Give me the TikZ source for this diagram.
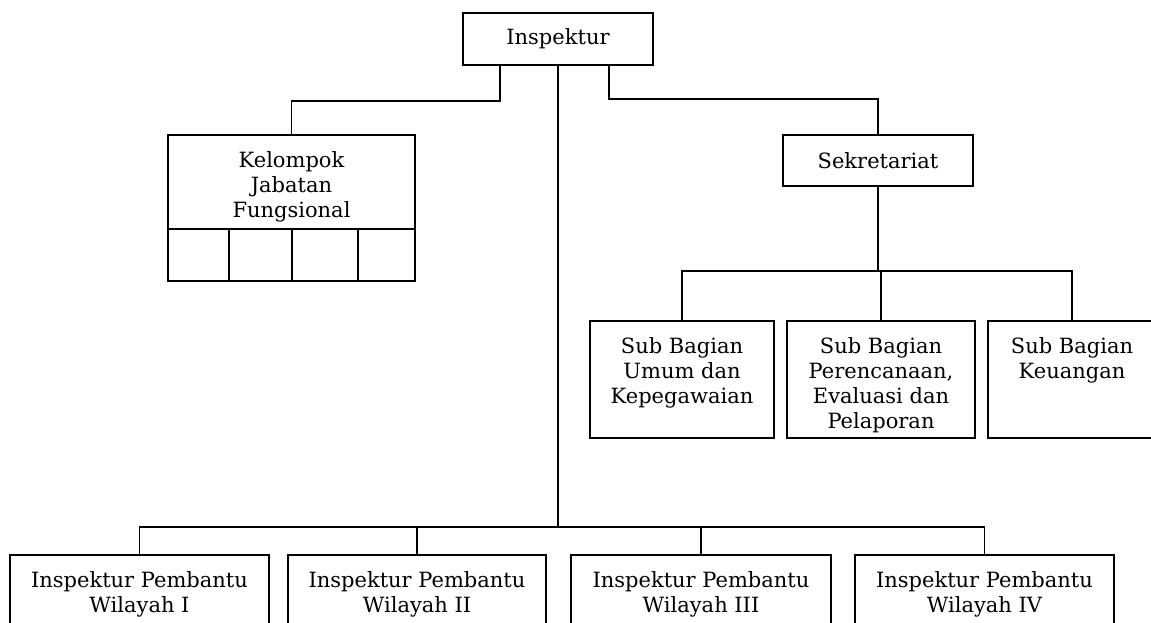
\documentclass[tikz,border=0pt]{standalone}
\usepackage{fontspec}
\setmainfont{DejaVu Serif}
\usetikzlibrary{positioning}

\begin{document}
\begin{tikzpicture}[x=0.5pt,y=-0.5pt,line width=0.85pt,
  font=\fontsize{10.5}{12.4}\selectfont,
  unit/.style={draw,rectangle,inner sep=0pt,outer sep=0pt},
  cell/.style={unit,minimum height=26pt},
  topbox/.style={unit,anchor=north,
    label={[anchor=north,align=center,inner sep=0pt,yshift=-8pt]north:{#1}}}]
\useasboundingbox (0,0) rectangle (1151,622);

% pimpinan dan sekretariat
\node[unit,minimum width=95pt,minimum height=26pt] (insp) at (558,39) {Inspektur};
\node[unit,minimum width=95pt,minimum height=25.5pt] (sek) at (878,160.5) {Sekretariat};

% kelompok jabatan fungsional
\node[topbox={Kelompok\\Jabatan\\Fungsional},minimum width=123.5pt,minimum height=47pt] (kjf) at (291.5,135) {};
\node[cell,minimum width=30.5pt,anchor=north west] (c1) at (kjf.south west) {};
\node[cell,minimum width=31.5pt,right=0pt of c1] (c2) {};
\node[cell,minimum width=33pt,right=0pt of c2] (c3) {};
\node[cell,minimum width=28.5pt,right=0pt of c3] (c4) {};

% sub bagian
\node[topbox={Sub Bagian\\Umum dan\\Kepegawaian},minimum width=92pt,minimum height=58.5pt] (sb1) at (682,321) {};
\node[topbox={Sub Bagian\\Perencanaan,\\Evaluasi dan\\Pelaporan},minimum width=94pt,minimum height=58.5pt] (sb2) at (881,321) {};
\node[topbox={Sub Bagian\\Keuangan},minimum width=84pt,minimum height=58.5pt] (sb3) at (1072,321) {};

% inspektur pembantu
\foreach \n/\x/\w in {I/139.5/129.5,II/417/129,III/701/130,IV/984.5/129.5}
  \node[topbox={Inspektur Pembantu\\Wilayah \n},minimum width=\w pt,minimum height=45pt] (ip\n) at (\x,555) {};

% garis
\draw (insp.south west) ++(37,0) -- ++(0,36) -| (kjf.north);
\draw (insp.south east) ++(-44,0) -- ++(0,34) -| (sek.north);
\draw (insp.south) -- ++(0,462) coordinate (hub);
\foreach \n in {I,II,III,IV}
  \draw (ip\n.north) |- (hub);
\draw (sek.south) -- ++(0,85) coordinate (sekhub);
\foreach \n in {sb1,sb2,sb3}
  \draw (\n.north) |- (sekhub);
\end{tikzpicture}
\end{document}
